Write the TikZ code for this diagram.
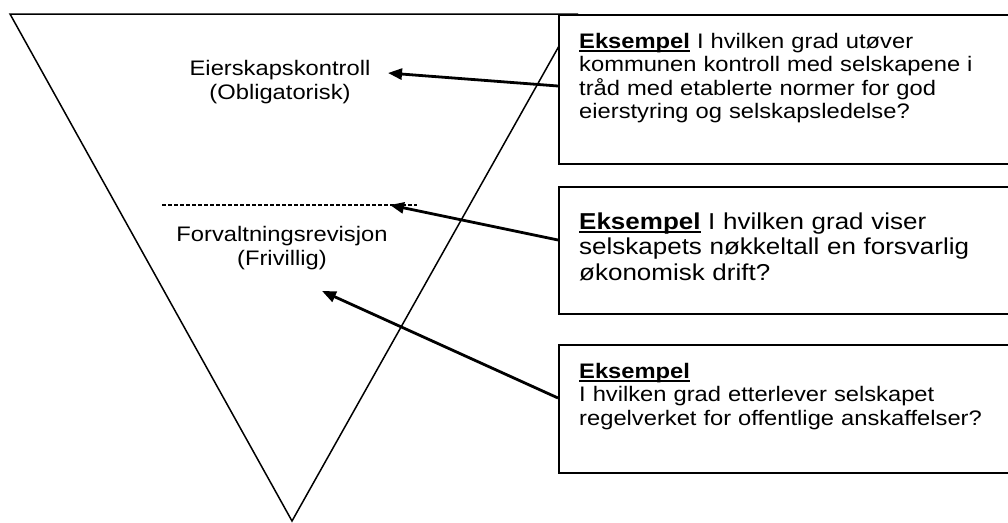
\documentclass[tikz,border=0pt]{standalone}
\usepackage{fontspec}
\setmainfont{Liberation Sans}[FakeStretch=1.13]
\usepackage{tikz}
\usetikzlibrary{arrows.meta, positioning}

\newcommand{\exhead}{\setbox0\hbox{\bfseries Eksempel}\rlap{\rule[-3.5pt]{\wd0}{1.8pt}}\box0}

\begin{document}
\begin{tikzpicture}[x=1pt, y=-1pt,
   funnel/.style={draw, line width=1.5pt, line join=miter},
   exbox/.style={draw, fill=white, line width=2pt, anchor=north west, minimum width=480pt, inner sep=0pt},
   extext/.style={anchor=base west, inner sep=0pt, text width=420pt, align=left, font=\fontsize{21}{23.5}\selectfont},
   level/.style={align=center, inner sep=0pt, font=\fontsize{21}{24}\selectfont},
   pointer/.style={line width=2.8pt, -{Triangle[length=14pt, width=11pt]}}]
   \useasboundingbox (0,0) rectangle (1008,522);
   \clip (0,0) rectangle (1008,522);

   \coordinate (topL) at (10,14);
   \coordinate (topR) at (577,14);
   \coordinate (apex) at (292,521);
   \draw[funnel] (topL) -- (topR) -- (apex) -- cycle;

   \node[level] (eier) at (280,82) {Eierskapskontroll\\(Obligatorisk)};
   \node[level] (forv) at (282,248) {Forvaltningsrevisjon\\(Frivillig)};

   \coordinate (dashL) at (162,205);
   \coordinate (dashR) at (417,205);
   \draw[line width=1.4pt, dash pattern=on 4pt off 2pt] (dashL) -- (dashR);

   \node[exbox, minimum height=149pt] (box1) at (558,14) {};
   \node[exbox, minimum height=127pt] (box2) at (558,186) {};
   \node[exbox, minimum height=128pt] (box3) at (558,344) {};

   \node[extext] (text1) at ([shift={(21,34)}]box1.north west)
      {\exhead{} I hvilken grad utøver\\kommunen kontroll med selskapene i\\tråd med etablerte normer for god\\eierstyring og selskapsledelse?};
   \node[extext, font=\fontsize{23}{25.5}\selectfont] (text2) at ([shift={(21,43)}]box2.north west)
      {\exhead{} I hvilken grad viser\\selskapets nøkkeltall en forsvarlig\\økonomisk drift?};
   \node[extext] (text3) at ([shift={(21,34)}]box3.north west)
      {\exhead\\I hvilken grad etterlever selskapet\\regelverket for offentlige anskaffelser?};

   \coordinate (tip1) at (388,73);
   \coordinate (tip2) at (390,205);
   \coordinate (tip3) at (322,291);
   \draw[pointer] ([yshift=-72pt]box1.north west) -- (tip1);
   \draw[pointer] ([yshift=-54pt]box2.north west) -- (tip2);
   \draw[pointer] ([yshift=-54pt]box3.north west) -- (tip3);
\end{tikzpicture}
\end{document}
